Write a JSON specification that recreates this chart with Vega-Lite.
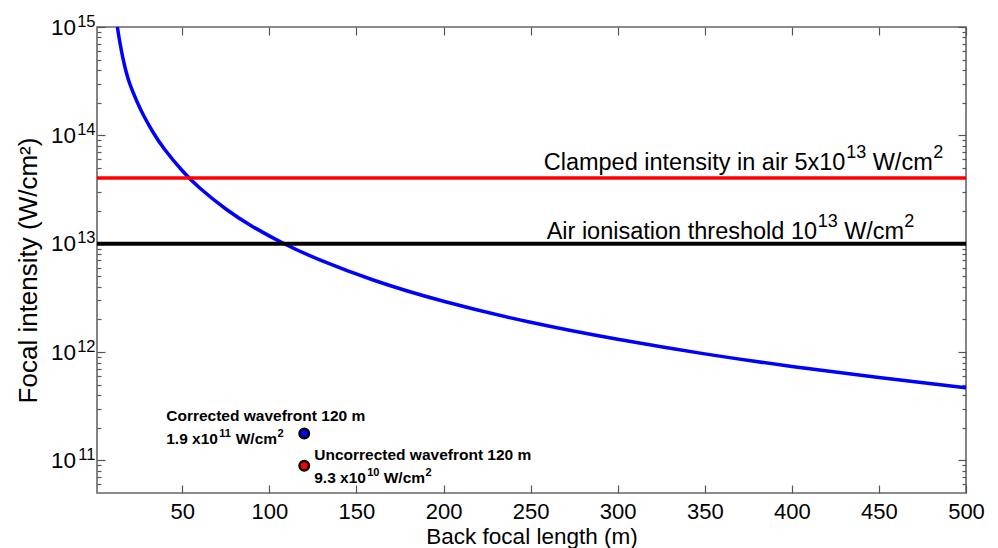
{
  "$schema": "https://vega.github.io/schema/vega-lite/v6.json",
  "width": 869,
  "height": 466,
  "autosize": "none",
  "padding": {"left": 97, "top": 27, "right": 32, "bottom": 55},
  "background": "white",
  "config": {
    "font": "Liberation Sans",
    "view": {"stroke": "#666666", "strokeWidth": 1.6},
    "text": {"font": "Liberation Sans", "color": "#000000", "align": "left", "baseline": "alphabetic"},
    "axis": {"grid": false, "domain": false, "labelFont": "Liberation Sans", "titleFont": "Liberation Sans", "labelColor": "#000000", "titleColor": "#000000", "titleFontWeight": "normal", "tickColor": "#555555", "tickWidth": 1.2, "labelFlush": false}
  },
  "datasets": {
    "curve": [
      {"x": 12.7, "y": 1.0e15},
      {"x": 14, "y": 7.43e14},
      {"x": 16, "y": 5.06e14},
      {"x": 18, "y": 3.72e14},
      {"x": 20, "y": 2.94e14},
      {"x": 24, "y": 2.04e14},
      {"x": 28, "y": 1.5e14},
      {"x": 33, "y": 1.08e14},
      {"x": 40, "y": 7.36e13},
      {"x": 50, "y": 4.71e13},
      {"x": 60, "y": 3.27e13},
      {"x": 75, "y": 2.09e13},
      {"x": 90, "y": 1.45e13},
      {"x": 108.5, "y": 1.0e13},
      {"x": 130, "y": 6.97e12},
      {"x": 160, "y": 4.6e12},
      {"x": 200, "y": 2.94e12},
      {"x": 250, "y": 1.88e12},
      {"x": 300, "y": 1.31e12},
      {"x": 350, "y": 9.62e11},
      {"x": 400, "y": 7.36e11},
      {"x": 450, "y": 5.81e11},
      {"x": 500, "y": 4.68e11}
    ],
    "levels": [
      {"name": "clamped", "y": 4.03e13},
      {"name": "ionisation", "y": 1.0e13}
    ],
    "notes": [
      {"name": "clamped", "x": 257.5, "y": 4.03e13, "base": "Clamped intensity in air 5x10", "sup1": "13", "unit": "W/cm", "sup2": "2"},
      {"name": "ionisation", "x": 259.2, "y": 1.0e13, "base": "Air ionisation threshold 10", "sup1": "13", "unit": "W/cm", "sup2": "2"}
    ],
    "measured": [
      {"case": "Corrected", "x": 120, "y": 1.77e11, "line1": "Corrected wavefront 120 m", "base": "1.9 x10", "sup1": "11", "unit": "W/cm", "sup2": "2"},
      {"case": "Uncorrected", "x": 120, "y": 8.93e10, "line1": "Uncorrected wavefront 120 m", "base": "9.3 x10", "sup1": "10", "unit": "W/cm", "sup2": "2"}
    ]
  },
  "resolve": {"axis": {"x": "independent", "y": "independent"}},
  "layer": [
    {
      "data": {"name": "curve"},
      "mark": {"type": "line", "color": "#0000ff", "strokeWidth": 3.5, "interpolate": "natural", "clip": true},
      "encoding": {
        "x": {"field": "x", "type": "quantitative", "scale": {"domain": [1, 500], "nice": false, "zero": false},
          "axis": {"orient": "bottom", "values": [50, 100, 150, 200, 250, 300, 350, 400, 450, 500], "ticks": false, "labelPadding": 8, "labelFontSize": 22,
            "title": "Back focal length (m)", "titleFontSize": 22.5, "titleBaseline": "alphabetic", "titleY": 50}},
        "y": {"field": "y", "type": "quantitative", "scale": {"type": "log", "domain": [5e10, 1e15], "nice": false},
          "axis": {"orient": "left", "values": [1e11, 1e12, 1e13, 1e14, 1e15], "ticks": false, "labelPadding": 21.5, "labelFontSize": 22.5,
            "labelExpr": "'10'",
            "title": "Focal intensity (W/cm²)", "titleFontSize": 26, "titleBaseline": "alphabetic", "titleAngle": -90, "titleX": -61, "titleY": 243}}
      }
    },
    {
      "data": {"name": "levels"},
      "transform": [{"filter": "datum.name === 'clamped'"}],
      "mark": {"type": "rule", "color": "#ff0000", "strokeWidth": 3.5},
      "encoding": {"y": {"field": "y", "type": "quantitative",
        "axis": {"orient": "left", "values": [1e11, 1e12, 1e13, 1e14, 1e15], "ticks": false, "labelPadding": 2, "labelFontSize": 16.5, "labelOffset": -6,
          "labelExpr": "datum.value > 9e14 ? '15' : datum.value > 9e13 ? '14' : datum.value > 9e12 ? '13' : datum.value > 9e11 ? '12' : '11'", "title": null}}}
    },
    {
      "data": {"name": "levels"},
      "transform": [{"filter": "datum.name === 'ionisation'"}],
      "mark": {"type": "rule", "color": "#000000", "strokeWidth": 4},
      "encoding": {"y": {"field": "y", "type": "quantitative",
        "axis": {"orient": "right", "values": [1e11, 1e12, 1e13, 1e14, 1e15], "labels": false, "tickSize": -8, "title": null}}}
    },
    {
      "data": {"name": "measured"},
      "transform": [{"filter": "datum.case === 'Corrected'"}],
      "mark": {"type": "point", "shape": "circle", "filled": true, "fill": "#0000ff", "stroke": "#000000", "strokeWidth": 2.5, "size": 90, "opacity": 1},
      "encoding": {
        "x": {"field": "x", "type": "quantitative", "axis": {"orient": "bottom", "values": [50, 100, 150, 200, 250, 300, 350, 400, 450, 500], "labels": false, "tickSize": -8, "title": null}},
        "y": {"field": "y", "type": "quantitative", "axis": {"orient": "left", "values": [1e11, 1e12, 1e13, 1e14, 1e15], "labels": false, "tickSize": -8, "title": null}}
      }
    },
    {
      "data": {"name": "measured"},
      "transform": [{"filter": "datum.case === 'Uncorrected'"}],
      "mark": {"type": "point", "shape": "circle", "filled": true, "fill": "#ff0000", "stroke": "#000000", "strokeWidth": 2.5, "size": 90, "opacity": 1},
      "encoding": {
        "x": {"field": "x", "type": "quantitative", "axis": {"orient": "top", "values": [50, 100, 150, 200, 250, 300, 350, 400, 450, 500], "labels": false, "tickSize": -8, "title": null}},
        "y": {"field": "y", "type": "quantitative", "axis": {"orient": "left", "values": [6e10, 7e10, 8e10, 9e10, 2e11, 3e11, 4e11, 5e11, 6e11, 7e11, 8e11, 9e11, 2e12, 3e12, 4e12, 5e12, 6e12, 7e12, 8e12, 9e12, 2e13, 3e13, 4e13, 5e13, 6e13, 7e13, 8e13, 9e13, 2e14, 3e14, 4e14, 5e14, 6e14, 7e14, 8e14, 9e14], "labels": false, "tickSize": -4, "title": null}}
      }
    },
    {
      "data": {"name": "measured"},
      "transform": [{"filter": "datum.case === 'Corrected'"}],
      "mark": {"type": "text", "dx": -138, "dy": -13, "fontSize": 15.5, "fontWeight": "bold"},
      "encoding": {
        "x": {"field": "x", "type": "quantitative", "axis": null},
        "y": {"field": "y", "type": "quantitative", "axis": {"orient": "right", "values": [6e10, 7e10, 8e10, 9e10, 2e11, 3e11, 4e11, 5e11, 6e11, 7e11, 8e11, 9e11, 2e12, 3e12, 4e12, 5e12, 6e12, 7e12, 8e12, 9e12, 2e13, 3e13, 4e13, 5e13, 6e13, 7e13, 8e13, 9e13, 2e14, 3e14, 4e14, 5e14, 6e14, 7e14, 8e14, 9e14], "labels": false, "tickSize": -4, "title": null}},
        "text": {"field": "line1"}
      }
    },
    {
      "data": {"name": "measured"},
      "transform": [{"filter": "datum.case === 'Corrected'"}],
      "mark": {"type": "text", "dx": -138, "dy": 10, "fontSize": 15.5, "fontWeight": "bold"},
      "encoding": {"x": {"field": "x", "type": "quantitative", "axis": null}, "y": {"field": "y", "type": "quantitative", "axis": null}, "text": {"field": "base"}}
    },
    {
      "data": {"name": "measured"},
      "transform": [{"filter": "datum.case === 'Corrected'"}],
      "mark": {"type": "text", "dx": -85, "dy": 3, "fontSize": 11, "fontWeight": "bold"},
      "encoding": {"x": {"field": "x", "type": "quantitative", "axis": null}, "y": {"field": "y", "type": "quantitative", "axis": null}, "text": {"field": "sup1"}}
    },
    {
      "data": {"name": "measured"},
      "transform": [{"filter": "datum.case === 'Corrected'"}],
      "mark": {"type": "text", "dx": -68.5, "dy": 10, "fontSize": 15.5, "fontWeight": "bold"},
      "encoding": {"x": {"field": "x", "type": "quantitative", "axis": null}, "y": {"field": "y", "type": "quantitative", "axis": null}, "text": {"field": "unit"}}
    },
    {
      "data": {"name": "measured"},
      "transform": [{"filter": "datum.case === 'Corrected'"}],
      "mark": {"type": "text", "dx": -26.7, "dy": 3, "fontSize": 11, "fontWeight": "bold"},
      "encoding": {"x": {"field": "x", "type": "quantitative", "axis": null}, "y": {"field": "y", "type": "quantitative", "axis": null}, "text": {"field": "sup2"}}
    },
    {
      "data": {"name": "measured"},
      "transform": [{"filter": "datum.case === 'Uncorrected'"}],
      "mark": {"type": "text", "dx": 10, "dy": -6, "fontSize": 15.5, "fontWeight": "bold"},
      "encoding": {"x": {"field": "x", "type": "quantitative", "axis": null}, "y": {"field": "y", "type": "quantitative", "axis": null}, "text": {"field": "line1"}}
    },
    {
      "data": {"name": "measured"},
      "transform": [{"filter": "datum.case === 'Uncorrected'"}],
      "mark": {"type": "text", "dx": 10, "dy": 17, "fontSize": 15.5, "fontWeight": "bold"},
      "encoding": {"x": {"field": "x", "type": "quantitative", "axis": null}, "y": {"field": "y", "type": "quantitative", "axis": null}, "text": {"field": "base"}}
    },
    {
      "data": {"name": "measured"},
      "transform": [{"filter": "datum.case === 'Uncorrected'"}],
      "mark": {"type": "text", "dx": 63, "dy": 10, "fontSize": 11, "fontWeight": "bold"},
      "encoding": {"x": {"field": "x", "type": "quantitative", "axis": null}, "y": {"field": "y", "type": "quantitative", "axis": null}, "text": {"field": "sup1"}}
    },
    {
      "data": {"name": "measured"},
      "transform": [{"filter": "datum.case === 'Uncorrected'"}],
      "mark": {"type": "text", "dx": 79.5, "dy": 17, "fontSize": 15.5, "fontWeight": "bold"},
      "encoding": {"x": {"field": "x", "type": "quantitative", "axis": null}, "y": {"field": "y", "type": "quantitative", "axis": null}, "text": {"field": "unit"}}
    },
    {
      "data": {"name": "measured"},
      "transform": [{"filter": "datum.case === 'Uncorrected'"}],
      "mark": {"type": "text", "dx": 121.3, "dy": 10, "fontSize": 11, "fontWeight": "bold"},
      "encoding": {"x": {"field": "x", "type": "quantitative", "axis": null}, "y": {"field": "y", "type": "quantitative", "axis": null}, "text": {"field": "sup2"}}
    },
    {
      "data": {"name": "notes"},
      "transform": [{"filter": "datum.name === 'clamped'"}],
      "mark": {"type": "text", "dx": 0, "dy": -8, "fontSize": 23.5},
      "encoding": {"x": {"field": "x", "type": "quantitative", "axis": null}, "y": {"field": "y", "type": "quantitative", "axis": null}, "text": {"field": "base"}}
    },
    {
      "data": {"name": "notes"},
      "transform": [{"filter": "datum.name === 'clamped'"}],
      "mark": {"type": "text", "dx": 302.5, "dy": -20, "fontSize": 18},
      "encoding": {"x": {"field": "x", "type": "quantitative", "axis": null}, "y": {"field": "y", "type": "quantitative", "axis": null}, "text": {"field": "sup1"}}
    },
    {
      "data": {"name": "notes"},
      "transform": [{"filter": "datum.name === 'clamped'"}],
      "mark": {"type": "text", "dx": 329, "dy": -8, "fontSize": 23.5},
      "encoding": {"x": {"field": "x", "type": "quantitative", "axis": null}, "y": {"field": "y", "type": "quantitative", "axis": null}, "text": {"field": "unit"}}
    },
    {
      "data": {"name": "notes"},
      "transform": [{"filter": "datum.name === 'clamped'"}],
      "mark": {"type": "text", "dx": 389.5, "dy": -20, "fontSize": 18},
      "encoding": {"x": {"field": "x", "type": "quantitative", "axis": null}, "y": {"field": "y", "type": "quantitative", "axis": null}, "text": {"field": "sup2"}}
    },
    {
      "data": {"name": "notes"},
      "transform": [{"filter": "datum.name === 'ionisation'"}],
      "mark": {"type": "text", "dx": 0, "dy": -5, "fontSize": 23.5},
      "encoding": {"x": {"field": "x", "type": "quantitative", "axis": null}, "y": {"field": "y", "type": "quantitative", "axis": null}, "text": {"field": "base"}}
    },
    {
      "data": {"name": "notes"},
      "transform": [{"filter": "datum.name === 'ionisation'"}],
      "mark": {"type": "text", "dx": 271, "dy": -17, "fontSize": 18},
      "encoding": {"x": {"field": "x", "type": "quantitative", "axis": null}, "y": {"field": "y", "type": "quantitative", "axis": null}, "text": {"field": "sup1"}}
    },
    {
      "data": {"name": "notes"},
      "transform": [{"filter": "datum.name === 'ionisation'"}],
      "mark": {"type": "text", "dx": 297.5, "dy": -5, "fontSize": 23.5},
      "encoding": {"x": {"field": "x", "type": "quantitative", "axis": null}, "y": {"field": "y", "type": "quantitative", "axis": null}, "text": {"field": "unit"}}
    },
    {
      "data": {"name": "notes"},
      "transform": [{"filter": "datum.name === 'ionisation'"}],
      "mark": {"type": "text", "dx": 357.5, "dy": -17, "fontSize": 18},
      "encoding": {"x": {"field": "x", "type": "quantitative", "axis": null}, "y": {"field": "y", "type": "quantitative", "axis": null}, "text": {"field": "sup2"}}
    }
  ]
}
